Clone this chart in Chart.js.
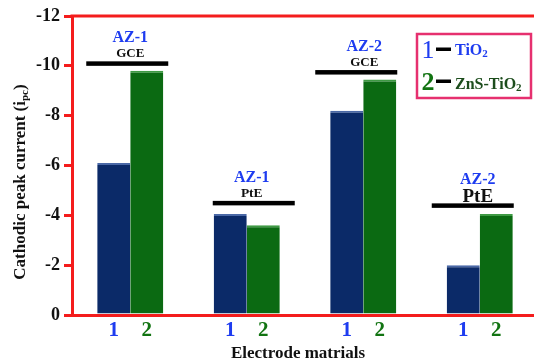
<!DOCTYPE html>
<html>
<head>
<meta charset="utf-8">
<script src="https://cdn.jsdelivr.net/npm/chart.js@4.4.0/dist/chart.umd.min.js"></script>
<style>
  html, body { margin: 0; padding: 0; background: #fff; overflow: hidden; }
  #wrap { width: 540px; height: 360px; }
</style>
</head>
<body>
<div id="wrap"><canvas id="myChart"></canvas></div>
<script>
// values (y axis is reversed: -12 at top)
const groups = ["AZ-1", "AZ-1", "AZ-2", "AZ-2"];
const electrodes = ["GCE", "PtE", "GCE", "PtE"];
const tio2 = [-6.1, -4.05, -8.2, -2.0];
const znsTio2 = [-9.8, -3.6, -9.45, -4.05];
const groupLines = [-10.1, -4.5, -9.75, -4.4];
const barLabels = ["1", "2"];
const seriesNames = ["TiO2", "ZnS-TiO2"];
const yTicks = [-12, -10, -8, -6, -4, -2, 0];

const RED = "#f41c1c";
const BLUE_TXT = "#1e3cf0";
const GREEN_TXT = "#127412";
const serif = '"Liberation Serif", "Times New Roman", serif';
const font = (size, w) => (w || "bold") + " " + size + "px " + serif;

// draw a row of [text, size, dy] pieces starting at x
function pieces(ctx, parts, x, y, align) {
  let total = 0;
  parts.forEach(p => { ctx.font = font(p[1]); total += ctx.measureText(p[0]).width; });
  let cx = align === "center" ? x - total / 2 : x;
  ctx.textAlign = "left";
  parts.forEach(p => {
    ctx.font = font(p[1]);
    ctx.fillText(p[0], cx, y + (p[2] || 0));
    cx += ctx.measureText(p[0]).width;
  });
}

// per-group offsets for the black bars and labels (px)
const groupStyle = [
  { lineDx: -3, textDx: 0, eSize: 13, eDy: -6 },
  { lineDx: 7, textDx: 5, eSize: 13.5, eDy: -6 },
  { lineDx: -7, textDx: 1, eSize: 13, eDy: -6 },
  { lineDx: -7, textDx: -2, eSize: 19, eDy: -3 },
];

const annot = {
  id: "annot",
  afterDraw(chart) {
    const ctx = chart.ctx;
    const { left, top } = chart.chartArea;
    const xs = chart.scales.x, ys = chart.scales.y;
    ctx.save();

    // red top frame line
    ctx.strokeStyle = RED;
    ctx.lineWidth = 3;
    ctx.beginPath();
    ctx.moveTo(left - 1.5, top);
    ctx.lineTo(chart.width, top);
    ctx.stroke();

    // group headers
    ctx.textBaseline = "alphabetic";
    groups.forEach((g, i) => {
      const st = groupStyle[i];
      const cx = xs.getPixelForValue(i);
      const ly = ys.getPixelForValue(groupLines[i]);
      ctx.fillStyle = "#000";
      ctx.fillRect(cx + st.lineDx - 41, ly - 2, 82, 4.5);
      ctx.textAlign = "center";
      ctx.fillStyle = "#111";
      ctx.font = font(st.eSize);
      ctx.fillText(electrodes[i], cx + st.textDx, ly + st.eDy);
      ctx.fillStyle = BLUE_TXT;
      ctx.font = font(16);
      ctx.fillText(g, cx + st.textDx, ly - 21);
    });

    // 1 / 2 labels under each bar
    const base = ys.getPixelForValue(0);
    [0, 1].forEach(d => {
      chart.getDatasetMeta(d).data.forEach(bar => {
        ctx.fillStyle = d === 0 ? BLUE_TXT : GREEN_TXT;
        ctx.font = font(21);
        ctx.textAlign = "center";
        ctx.fillText(barLabels[d], bar.x, base + 21);
      });
    });

    // axis titles
    ctx.fillStyle = "#111";
    ctx.textAlign = "center";
    ctx.font = font(17);
    ctx.fillText("Electrode matrials", 298, 357.5);

    ctx.save();
    ctx.translate(25, 182);
    ctx.rotate(-Math.PI / 2);
    pieces(ctx, [["Cathodic peak current (i", 17, 0], ["pc", 11, 3], [")", 17, 0]], 0, 0, "center");
    ctx.restore();

    // legend box
    ctx.strokeStyle = "#e6306f";
    ctx.lineWidth = 2.5;
    ctx.strokeRect(417, 34, 114, 64);
    const rows = [
      { num: barLabels[0], col: BLUE_TXT, txt: "#1e3cf0", y: 58, ty: 55, name: seriesNames[0], w: "normal" },
      { num: barLabels[1], col: GREEN_TXT, txt: "#1c4d1c", y: 90, ty: 89, name: seriesNames[1], w: "bold" },
    ];
    rows.forEach(r => {
      ctx.fillStyle = r.col;
      ctx.font = font(26, r.w);
      ctx.textAlign = "center";
      ctx.fillText(r.num, 428, r.y);
      ctx.fillStyle = "#000";
      ctx.fillRect(436, r.y - 10.5, 15, 3.5);
      ctx.fillStyle = r.txt;
      const main = r.name.slice(0, -1), sub = r.name.slice(-1);
      pieces(ctx, [[main, 16, 0], [sub, 11, 2]], 455, r.ty, "left");
    });

    ctx.restore();
  }
};

const ctx = document.getElementById("myChart").getContext("2d");
const myChart = new Chart(ctx, {
  type: "bar",
  data: {
    labels: groups.map((g, i) => g + " " + electrodes[i]),
    datasets: [
      { label: seriesNames[0], data: tio2, backgroundColor: "#0b2a68",
        borderColor: "#4a68a6", borderWidth: { top: 2, left: 0, right: 0, bottom: 0 }, borderSkipped: false },
      { label: seriesNames[1], data: znsTio2, backgroundColor: "#0b6a12",
        borderColor: "#3f9a44", borderWidth: { top: 2, left: 0, right: 0, bottom: 0 }, borderSkipped: false },
    ],
  },
  options: {
    responsive: true,
    maintainAspectRatio: false,
    animation: false,
    layout: { padding: { top: 16, right: 2, left: 0, bottom: 0 } },
    plugins: { legend: { display: false }, tooltip: { enabled: false } },
    datasets: { bar: { categoryPercentage: 0.567, barPercentage: 1 } },
    scales: {
      x: {
        ticks: { display: false },
        grid: { display: false },
        border: { display: true, color: RED, width: 3 },
        afterFit: (s) => { s.height = 45; },
      },
      y: {
        reverse: true,
        min: -12,
        max: 0,
        afterBuildTicks: (s) => { s.ticks = yTicks.map(v => ({ value: v })); },
        ticks: {
          color: "#111",
          font: { family: serif, size: 18, weight: "bold" },
          padding: 4,
          callback: (v) => String(v),
        },
        grid: { drawOnChartArea: false, drawTicks: true, tickLength: 8, color: RED, lineWidth: 3 },
        border: { display: true, color: RED, width: 3 },
        afterFit: (s) => { s.width = 72; },
      },
    },
  },
  plugins: [annot],
});
</script>
</body>
</html>
